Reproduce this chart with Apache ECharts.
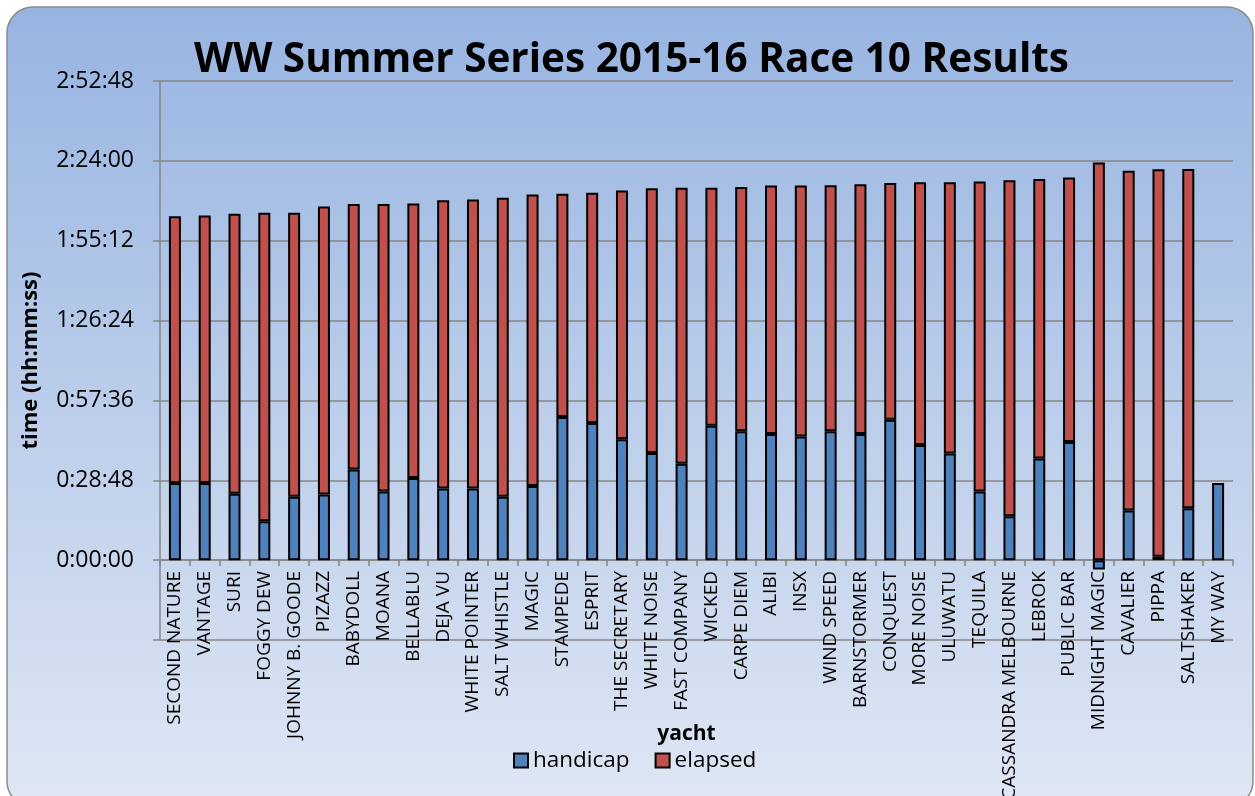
<!DOCTYPE html>
<html lang="en">
<head>
<meta charset="UTF-8">
<title>WW Summer Series 2015-16 Race 10 Results</title>
<script type="text/javascript" src="https://cdn.jsdelivr.net/npm/echarts@6/dist/echarts.min.js"></script>
<style>
    html, body { margin: 0; padding: 0; background: #fff; }
    #main { width: 1255px; height: 796px; }
</style>
</head>
<body>
<div id="main"></div>
<script type="text/javascript">
// yacht names in finishing order
var yachts = ['SECOND NATURE', 'VANTAGE', 'SURI', 'FOGGY DEW', 'JOHNNY B. GOODE', 'PIZAZZ',
    'BABYDOLL', 'MOANA', 'BELLABLU', 'DEJA VU', 'WHITE POINTER', 'SALT WHISTLE', 'MAGIC',
    'STAMPEDE', 'ESPRIT', 'THE SECRETARY', 'WHITE NOISE', 'FAST COMPANY', 'WICKED', 'CARPE DIEM',
    'ALIBI', 'INSX', 'WIND SPEED', 'BARNSTORMER', 'CONQUEST', 'MORE NOISE', 'ULUWATU', 'TEQUILA',
    'CASSANDRA MELBOURNE', 'LEBROK', 'PUBLIC BAR', 'MIDNIGHT MAGIC', 'CAVALIER', 'PIPPA',
    'SALTSHAKER', 'MY WAY'];

// times in seconds
var handicap = [1668, 1668, 1434, 840, 1374, 1422, 1962, 1488, 1776, 1548,
    1548, 1374, 1602, 3096, 2970, 2616, 2316, 2088, 2910, 2790,
    2730, 2676, 2790, 2730, 3036, 2490, 2310, 1488, 948, 2202,
    2556, -200, 1074, 72, 1122, 1668];
var elapsed = [5772, 5790, 6060, 6678, 6144, 6228, 5742, 6216, 5940, 6240,
    6258, 6468, 6312, 4830, 4980, 5382, 5730, 5970, 5148, 5286,
    5376, 5430, 5322, 5406, 5124, 5688, 5868, 6708, 7272, 6048,
    5724, 8604, 7350, 8388, 7344, null];

// axis: 0:28:48 steps, one step below zero
var yStep = 1728;
var yMin = -1728;
var yMax = 10368;

function hms(v) {
    var s = Math.round(v);
    var h = Math.floor(s / 3600);
    var m = Math.floor((s % 3600) / 60);
    var sec = s % 60;
    return h + ':' + (m < 10 ? '0' : '') + m + ':' + (sec < 10 ? '0' : '') + sec;
}

var myChart = echarts.init(document.getElementById('main'));

var option = {
    animation: false,
    textStyle: { fontFamily: 'Open Sans', color: '#000' },
    graphic: [{
        type: 'rect',
        z: -10,
        silent: true,
        shape: { x: 7, y: 7, width: 1246, height: 800, r: 26 },
        style: {
            fill: new echarts.graphic.LinearGradient(0, 0, 0, 1, [
                { offset: 0, color: '#97B4E1' },
                { offset: 1, color: '#DFE7F4' }
            ]),
            stroke: '#8C8C8C',
            lineWidth: 1.5
        }
    }],
    title: {
        text: 'WW Summer Series 2015-16 Race 10 Results',
        left: 189,
        top: 35,
        textStyle: { fontFamily: 'Open Sans', fontSize: 40.5, fontWeight: 'bold', color: '#000' }
    },
    legend: {
        data: ['handicap', 'elapsed'],
        left: 508,
        bottom: 19,
        icon: 'rect',
        itemWidth: 14,
        itemHeight: 14,
        itemGap: 25,
        textStyle: { fontSize: 22.5, color: '#000' }
    },
    grid: {
        left: 160,
        right: 22,
        top: 81,
        bottom: 156,
        outerBoundsMode: 'none'
    },
    xAxis: {
        type: 'category',
        data: yachts,
        name: 'yacht',
        nameLocation: 'middle',
        nameGap: 164,
        nameMoveOverlap: false,
        nameTextStyle: { fontSize: 21, fontWeight: 'bold', color: '#000', padding: [0, 20, 0, 0] },
        // draw the category axis on the zero line
        offset: -80,
        axisLine: { onZero: false, lineStyle: { color: '#868686', width: 1.5 } },
        axisTick: { show: true, interval: 0, length: 6, lineStyle: { color: '#868686', width: 1.5 } },
        axisLabel: { interval: 0, rotate: 90, fontSize: 19, color: '#000', margin: 11 }
    },
    yAxis: {
        type: 'value',
        min: yMin,
        max: yMax,
        interval: yStep,
        name: 'time (hh:mm:ss)',
        nameLocation: 'middle',
        nameRotate: 90,
        nameGap: 118,
        nameTextStyle: { fontSize: 22, fontWeight: 'bold', color: '#000' },
        axisLine: { show: true, lineStyle: { color: '#868686', width: 1.5 } },
        axisTick: { show: true, length: 7, lineStyle: { color: '#868686', width: 1.5 } },
        splitLine: { show: true, lineStyle: { color: '#868686', width: 1.5 } },
        axisLabel: {
            fontSize: 23,
            color: '#000',
            margin: 26,
            formatter: function (v) { return v < 0 ? '' : hms(v); }
        }
    },
    series: [{
        name: 'handicap',
        type: 'bar',
        stack: 'time',
        barWidth: 12,
        data: handicap,
        itemStyle: { color: '#4F81BD', borderColor: '#000', borderWidth: 2 }
    }, {
        name: 'elapsed',
        type: 'bar',
        stack: 'time',
        barWidth: 12,
        data: elapsed,
        itemStyle: { color: '#C0504D', borderColor: '#000', borderWidth: 2 }
    }]
};

myChart.setOption(option);
</script>
</body>
</html>
